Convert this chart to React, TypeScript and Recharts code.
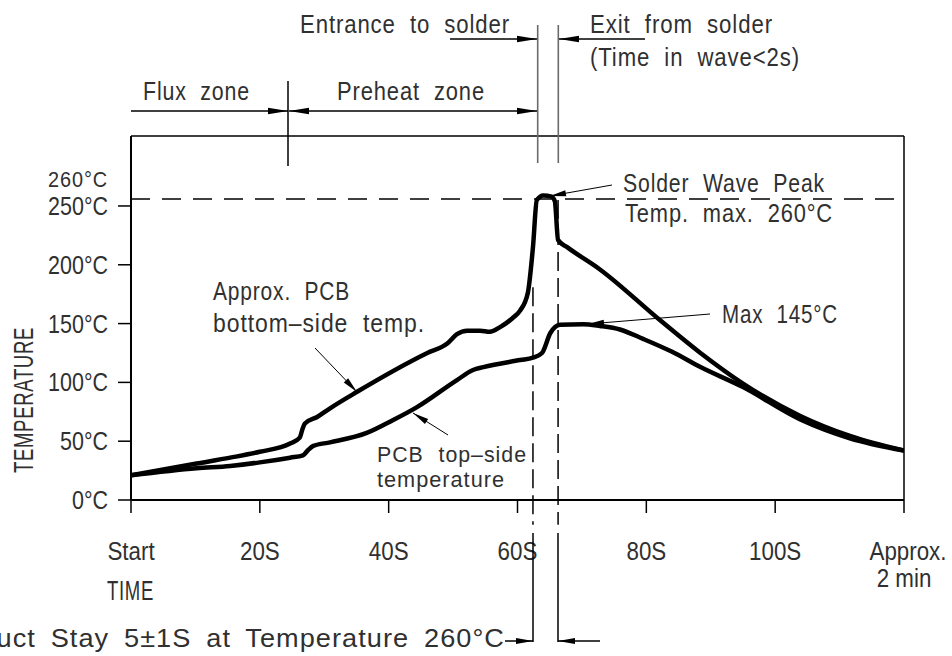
import React from 'react';
import { LineChart, Line, XAxis, YAxis, ReferenceLine } from 'recharts';

const FONT = "'Liberation Sans', Arial, Helvetica, sans-serif";
const INK = '#303030';

// ---- axes ----
const timeTicks = [0, 20, 40, 60, 80, 100, 120];
const timeTickLabels = ['Start', '20S', '40S', '60S', '80S', '100S', 'Approx.'];
const timeEndSubLabel = '2 min';
const tempTicks = [0, 50, 100, 150, 200, 250];
const tempUnit = '°C';
const timeMax = 120;
const tempMax = 309.5;

// ---- series: approx. PCB bottom-side temperature ----
const bottomSideTime = [0, 10.2, 15.4, 20, 24.7, 26.2, 26.6, 27.0, 28.9, 30.9, 35.1, 46.0, 49.1, 50.6, 52.2, 54.2, 55.7, 57.3, 59.3, 60.4, 61.6, 62.4, 63.0, 64.0, 65.3, 65.8, 66.3, 67.7, 72.8, 82.1, 88.4, 95.0, 103.9, 111.6, 120];
const bottomSideTemp = [21, 31, 36, 41, 48, 53, 60, 65, 70.6, 78, 92, 125, 133, 141, 144, 144, 143, 147, 155, 161, 176, 215, 255, 259, 258, 254, 221, 215, 196, 153, 125, 99, 71.5, 54.5, 42];

// ---- series: PCB top-side temperature ----
const topSideTime = [0, 10.2, 15.4, 20, 24.7, 26.7, 27.5, 28.3, 30.9, 36.6, 40.7, 44.4, 50.6, 53.1, 54.7, 60.4, 62.4, 63.8, 65.1, 66.6, 70.2, 72.8, 75.9, 79.5, 84.0, 88.4, 95.0, 103.9, 111.6, 120];
const topSideTemp = [21, 27, 29, 32, 36, 38, 42.5, 46, 49, 57, 68, 79, 102, 110.5, 113, 119, 121, 125, 142, 149, 149.5, 148, 145, 137, 126, 113, 96, 68.5, 52.5, 42];

// ---- reference levels / times ----
const peakLevel = 256;
const entranceTime = 62.4;
const exitTime = 66.3;

const bottomSide = bottomSideTime.map((t, i) => ({ t, T: bottomSideTemp[i] }));
const topSide = topSideTime.map((t, i) => ({ t, T: topSideTemp[i] }));

const SX = 0.86;

const TimeTick = (props: any) => {
  const { x, y, payload } = props;
  const i = timeTicks.indexOf(payload.value);
  const label = timeTickLabels[i];
  const isEnd = payload.value === timeMax;
  return (
    <g>
      <g transform={`translate(${x + (isEnd ? 4 : 0)},${y + 47}) scale(${SX},1)`}>
        <text x={0} y={0} textAnchor="middle" fontSize={26} fontFamily={FONT} fill={INK}>{label}</text>
      </g>
      {isEnd && (
        <g transform={`translate(${x},${y + 74}) scale(${SX},1)`}>
          <text x={0} y={0} textAnchor="middle" fontSize={26} fontFamily={FONT} fill={INK}>{timeEndSubLabel}</text>
        </g>
      )}
    </g>
  );
};

const TempTick = (props: any) => {
  const { x, y, payload } = props;
  return (
    <g transform={`translate(${x - 10},${y + 9}) scale(${SX},1)`}>
      <text x={0} y={0} textAnchor="end" fontSize={25} fontFamily={FONT} fill={INK}>{`${payload.value}${tempUnit}`}</text>
    </g>
  );
};

function Label(p: { x: number; y: number; w: number; size?: number; anchor?: string; adjust?: string; ws?: number; children: React.ReactNode }) {
  return (
    <text
      x={p.x}
      y={p.y}
      fontSize={p.size ?? 25}
      fontFamily={FONT}
      fill={INK}
      textAnchor={p.anchor ?? 'start'}
      textLength={p.w}
      lengthAdjust={p.adjust ?? 'spacingAndGlyphs'}
      style={{ wordSpacing: p.ws ?? 8, letterSpacing: 1 }}
    >
      {p.children}
    </text>
  );
}

function Arrow(p: { x1: number; y1: number; x2: number; y2: number; len?: number; hw?: number; w?: number; color?: string }) {
  const len = p.len ?? 20;
  const hw = p.hw ?? 3.2;
  const dx = p.x2 - p.x1;
  const dy = p.y2 - p.y1;
  const L = Math.hypot(dx, dy);
  const ux = dx / L;
  const uy = dy / L;
  const bx = p.x2 - ux * len;
  const by = p.y2 - uy * len;
  const px = -uy;
  const py = ux;
  const c = p.color ?? '#000';
  return (
    <g>
      <line x1={p.x1} y1={p.y1} x2={p.x2} y2={p.y2} stroke={c} strokeWidth={p.w ?? 1.5} />
      <polygon points={`${p.x2},${p.y2} ${bx + px * hw},${by + py * hw} ${bx - px * hw},${by - py * hw}`} fill={c} />
    </g>
  );
}

function Overlay() {
  return (
    <svg width={952} height={656} style={{ position: 'absolute', left: 0, top: 0, pointerEvents: 'none' }}>
      {/* top zone annotations */}
      <Label x={300} y={33} w={210}>Entrance to solder</Label>
      <Arrow x1={450} y1={39} x2={537} y2={39} />
      <Label x={590} y={33} w={183}>Exit from solder</Label>
      <Arrow x1={645} y1={39} x2={559} y2={39} />
      <Label x={590} y={66} w={210}>(Time in wave&lt;2s)</Label>
      <line x1={537.7} y1={25} x2={537.7} y2={163} stroke="#6a6a6a" strokeWidth={1.6} />
      <line x1={558.3} y1={25} x2={558.3} y2={163} stroke="#6a6a6a" strokeWidth={1.6} />

      <Label x={143} y={100} w={107}>Flux zone</Label>
      <Arrow x1={131} y1={111} x2={288} y2={111} />
      <line x1={288} y1={81} x2={288} y2={166} stroke="#000" strokeWidth={1.5} />
      <Label x={337} y={100} w={148}>Preheat zone</Label>
      <Arrow x1={410} y1={111} x2={289} y2={111} />
      <Arrow x1={410} y1={111} x2={537} y2={111} />

      {/* peak annotation */}
      <Label x={623} y={192} w={202}>Solder Wave Peak</Label>
      <Label x={625} y={222} w={208}>Temp. max. 260°C</Label>
      <Arrow x1={612} y1={185} x2={550} y2={196} len={16} hw={3} w={1} />

      <Label x={722} y={323} w={116}>Max 145°C</Label>
      <Arrow x1={710} y1={314} x2={588} y2={324} len={16} hw={3} w={1} />

      <Label x={213} y={300} w={137}>Approx. PCB</Label>
      <Label x={213} y={332} w={212}>bottom–side temp.</Label>
      <Arrow x1={315} y1={348} x2={357} y2={392} len={16} hw={3} w={1} />

      <Label x={377} y={462} w={150} size={22}>PCB top–side</Label>
      <Label x={377} y={487} w={128} size={22}>temperature</Label>
      <Arrow x1={448} y1={435} x2={413} y2={413} len={16} hw={3} w={1} />

      {/* axis extras */}
      <Label x={108} y={187} w={60} size={22} anchor="end" ws={0}>260°C</Label>
      <g transform="rotate(-90 33 400)">
        <Label x={33} y={400} w={146} size={27} anchor="middle" ws={0}>TEMPERATURE</Label>
      </g>
      <Label x={107} y={600} w={47} size={27} ws={0}>TIME</Label>

      {/* bottom dwell annotation */}
      <line x1={533} y1={533} x2={533} y2={642} stroke="#000" strokeWidth={1.5} />
      <line x1={558} y1={533} x2={558} y2={642} stroke="#000" strokeWidth={1.5} />
      <Label x={-65} y={647} w={570} size={26} ws={6}>Product Stay 5±1S at Temperature 260°C</Label>
      <Arrow x1={505} y1={641} x2={533} y2={641} len={17} hw={3} />
      <Arrow x1={600} y1={641} x2={558} y2={641} len={17} hw={3} />
    </svg>
  );
}

export default function App() {
  return (
    <div style={{ position: 'absolute', left: 0, top: 0, width: 952, height: 656, background: '#fff', overflow: 'hidden' }}>
      <LineChart width={952} height={656} margin={{ top: 136, right: 48, bottom: 96, left: 31 }}>
        <XAxis
          dataKey="t"
          type="number"
          domain={[0, timeMax]}
          ticks={timeTicks}
          tick={<TimeTick />}
          tickSize={13}
          tickMargin={0}
          height={60}
          interval={0}
          axisLine={{ stroke: '#000', strokeWidth: 2 }}
          tickLine={{ stroke: '#000', strokeWidth: 1.5 }}
          allowDataOverflow
        />
        <YAxis
          type="number"
          domain={[0, tempMax]}
          ticks={tempTicks}
          tick={<TempTick />}
          tickSize={13}
          tickMargin={0}
          width={100}
          interval={0}
          axisLine={{ stroke: '#000', strokeWidth: 2 }}
          tickLine={{ stroke: '#000', strokeWidth: 1.5 }}
          allowDataOverflow
        />
        <ReferenceLine y={tempMax} stroke="#000" strokeWidth={1.5} />
        <ReferenceLine x={timeMax} stroke="#000" strokeWidth={1.5} />
        <ReferenceLine y={peakLevel} stroke="#000" strokeWidth={1.5} strokeDasharray="19 12" />
        <ReferenceLine
          segment={[{ x: entranceTime, y: 181 }, { x: entranceTime, y: -21 }]}
          stroke="#000"
          strokeWidth={1.5}
          strokeDasharray="19 7"
          ifOverflow="visible"
        />
        <ReferenceLine
          segment={[{ x: exitTime, y: 255 }, { x: exitTime, y: -21 }]}
          stroke="#000"
          strokeWidth={1.5}
          strokeDasharray="19 7"
          ifOverflow="visible"
        />
        <Line data={bottomSide} dataKey="T" type="monotone" stroke="#000" strokeWidth={4.5} dot={false} isAnimationActive={false} />
        <Line data={topSide} dataKey="T" type="monotone" stroke="#000" strokeWidth={4.5} dot={false} isAnimationActive={false} />
      </LineChart>
      <Overlay />
    </div>
  );
}
